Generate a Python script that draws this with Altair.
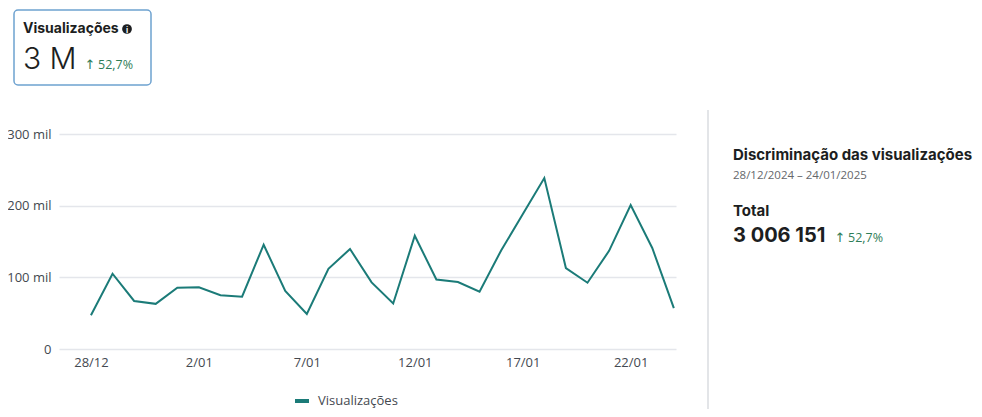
import altair as alt
import pandas as pd

# ---- data ----
day_labels = ["28/12", "29/12", "30/12", "31/12", "1/01", "2/01", "3/01", "4/01",
              "5/01", "6/01", "7/01", "8/01", "9/01", "10/01", "11/01", "12/01",
              "13/01", "14/01", "15/01", "16/01", "17/01", "18/01", "19/01", "20/01",
              "21/01", "22/01", "23/01", "24/01"]
views = [47000, 105000, 67000, 63000, 85500, 86000, 75000, 73000,
         145500, 81000, 49000, 112000, 139500, 93000, 63500, 158000,
         97000, 93500, 80000, 137500, 188000, 238500, 113000, 92500,
         137000, 201000, 141000, 57000]
series_name = "Visualizações"

x_tick_values = [0, 5, 10, 15, 20, 25]
x_tick_labels = ["28/12", "2/01", "7/01", "12/01", "17/01", "22/01"]
y_tick_values = [0, 100000, 200000, 300000]
y_tick_labels = ["0", "100 mil", "200 mil", "300 mil"]

card_title = "Visualizações"
card_value = "3 M"
change_arrow = "↑"
card_change = "52,7%"
panel_title = "Discriminação das visualizações"
panel_range = "28/12/2024 – 24/01/2025"
panel_total_label = "Total"
panel_total_value = "3 006 151"
panel_change = "52,7%"

df = pd.DataFrame({
    "idx": list(range(len(views))),
    "day": day_labels,
    "views": views,
    "series": [series_name] * len(views),
})

TEAL = "#1b7b78"
DARK = "#1c1e21"
GREY = "#65676b"
GREEN = "#2f7d57"
AXIS_FONT = "Open Sans"
PANEL_FONT = "Inter"


def js_list(items):
    return "[" + ",".join(repr(i) if isinstance(i, str) else str(i) for i in items) + "]"


x_label_expr = f"{js_list(x_tick_labels)}[indexof({js_list(x_tick_values)}, datum.value)]"
y_label_expr = f"{js_list(y_tick_labels)}[indexof({js_list(y_tick_values)}, datum.value)]"

line = alt.Chart(df).mark_line(strokeWidth=2, strokeJoin="miter").encode(
    x=alt.X("idx:Q", scale=alt.Scale(domain=[-1.48, 27.1], nice=False, zero=False),
            axis=alt.Axis(title=None, values=x_tick_values, labelExpr=x_label_expr,
                          grid=False, domain=False, ticks=False, labelPadding=7,
                          labelFont=AXIS_FONT, labelFontSize=13, labelColor="#444950")),
    y=alt.Y("views:Q", scale=alt.Scale(domain=[0, 300000], nice=False),
            axis=alt.Axis(title=None, values=y_tick_values, labelExpr=y_label_expr,
                          grid=True, gridColor="#e4e6eb", gridWidth=1.5,
                          domain=False, ticks=False, labelPadding=8,
                          labelFont=AXIS_FONT, labelFontSize=13, labelColor="#444950")),
    color=alt.Color("series:N", scale=alt.Scale(domain=[series_name], range=[TEAL]),
                    legend=alt.Legend(title=None, orient="none", legendX=234, legendY=258,
                                      symbolType="stroke", symbolStrokeWidth=4,
                                      symbolSize=196, labelOffset=7, padding=0,
                                      labelFont=AXIS_FONT, labelFontSize=13,
                                      labelColor="#444950")),
    tooltip=["day:N", "views:Q"],
)


def one():
    return alt.Data(values=[{"k": 1}])


def text(t, x, y, size, weight="normal", color=DARK, font=PANEL_FONT, align="left",
         baseline="alphabetic"):
    return alt.Chart(alt.Data(values=[{"t": t}])).mark_text(
        align=align, baseline=baseline, fontSize=size, fontWeight=weight,
        color=color, font=font,
    ).encode(x=alt.value(x), y=alt.value(y), text="t:N")


card = alt.Chart(one()).mark_rect(
    fill="white", stroke="#6ea2d0", strokeWidth=1.5, cornerRadius=4
).encode(x=alt.value(-45), x2=alt.value(92), y=alt.value(-124), y2=alt.value(-49))

info_dot = alt.Chart(one()).mark_point(
    shape="circle", filled=True, size=95, color=DARK, opacity=1
).encode(x=alt.value(68), y=alt.value(-105))

divider = alt.Chart(one()).mark_rule(color="#dadde1", strokeWidth=1.5).encode(
    x=alt.value(649), y=alt.value(-24), y2=alt.value(276))

layers = [
    line,
    card,
    text(card_title, -36, -101, 14, "bold"),
    info_dot,
    text("i", 68, -101.5, 8, "bold", color="white", align="center"),
    text(card_value, -36, -65, 30, 300),
    text(change_arrow, 31, -65.5, 13, color=GREEN, font="DejaVu Sans", align="center"),
    text(card_change, 39, -65, 12.5, color=GREEN, font=AXIS_FONT),
    divider,
    text(panel_title, 674, 26, 15, "bold"),
    text(panel_range, 674, 45, 11.5, color=GREY, font=AXIS_FONT),
    text(panel_total_label, 674, 82, 15, "bold"),
    text(panel_total_value, 674, 108, 20, "bold"),
    text(change_arrow, 781, 107.5, 13, color=GREEN, font="DejaVu Sans", align="center"),
    text(panel_change, 789, 108, 12.5, color=GREEN, font=AXIS_FONT),
]

chart = alt.layer(*layers).properties(
    width=617, height=215,
    padding={"left": 51, "top": 126, "right": 298, "bottom": 60},
    autosize=alt.AutoSizeParams(type="none"),
    background="white",
).configure_view(stroke=None)

chart.save("out.html", embed_options={"renderer": "svg", "actions": False})
